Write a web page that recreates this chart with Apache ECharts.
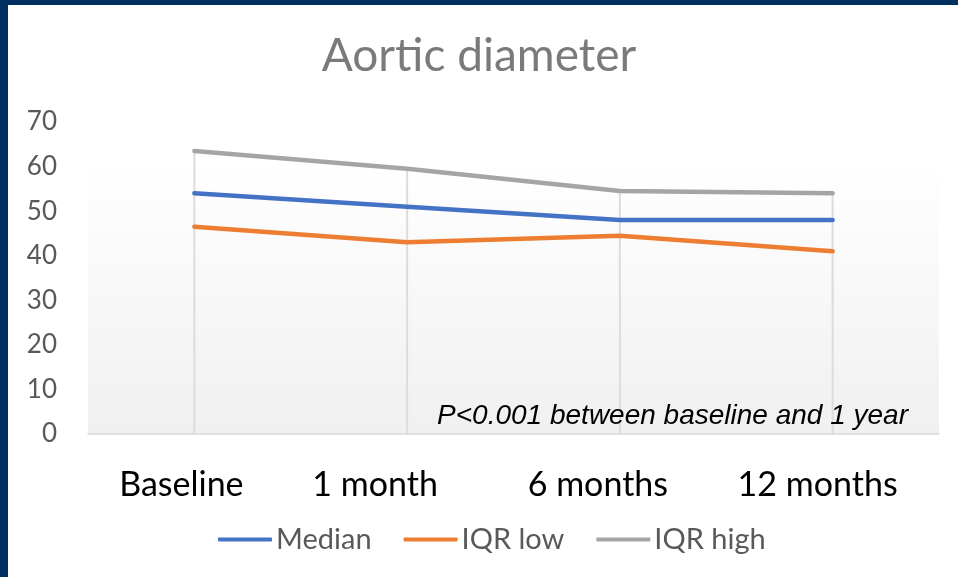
<!DOCTYPE html>
<html>
<head>
<meta charset="utf-8">
<script src="https://cdn.jsdelivr.net/npm/echarts@6/dist/echarts.min.js"></script>
<style>
  html, body { margin: 0; padding: 0; background: #fff; }
  #chart { width: 958px; height: 577px; }
</style>
</head>
<body>
<div id="chart"></div>
<script>
// data
var categories = ['Baseline', '1 month', '6 months', '12 months']
var median = [54, 51, 48, 48]
var iqrLow = [46.5, 43, 44.5, 41]
var iqrHigh = [63.5, 59.5, 54.5, 54]
var yTicks = [0, 10, 20, 30, 40, 50, 60, 70]

// excel nudges the category labels a bit left of their ticks
var labelShift = [13, 32, 22, 15]

// excel style drop lines: from the top series down to the axis
var dropTop = categories.map(function (c, i) {
  return Math.max(median[i], iqrLow[i], iqrHigh[i])
})

var navy = '#00305f'
var calibri = 'Lato, "Open Sans", sans-serif'

var chart = echarts.init(document.getElementById('chart'))

function lineSeries(name, data, color) {
  return {
    name: name,
    type: 'line',
    data: data,
    symbol: 'none',
    z: 3,
    lineStyle: { color: color, width: 4.5, cap: 'round', join: 'round' },
    itemStyle: { color: color }
  }
}

chart.setOption({
  animation: false,
  title: {
    text: 'Aortic diameter',
    left: 'center',
    top: 28,
    textStyle: {
      fontFamily: calibri,
      fontWeight: 400,
      fontSize: 46,
      color: '#7a7a7a'
    }
  },
  grid: {
    left: 88,
    right: 19,
    top: 122,
    bottom: 143,
    show: true,
    borderWidth: 0,
    backgroundColor: new echarts.graphic.LinearGradient(0, 0, 0, 1, [
      { offset: 0, color: '#ffffff' },
      { offset: 0.13, color: '#ffffff' },
      { offset: 1, color: '#f0f0f0' }
    ])
  },
  legend: {
    data: ['Median', 'IQR low', 'IQR high'],
    left: 213,
    top: 520,
    icon: 'roundRect',
    itemWidth: 54,
    itemHeight: 4,
    itemGap: 32,
    textStyle: {
      fontFamily: calibri,
      fontSize: 29,
      color: '#595959',
      padding: [0, 0, 0, -1]
    }
  },
  xAxis: {
    type: 'category',
    data: categories.map(function (c, i) {
      return { value: c, textStyle: { padding: [0, labelShift[i] * 2, 0, 0] } }
    }),
    boundaryGap: true,
    axisTick: { show: false },
    axisLine: { lineStyle: { color: '#d9d9d9', width: 1.5 } },
    axisLabel: {
      fontFamily: calibri,
      fontSize: 34,
      color: '#000',
      margin: 34
    },
    splitLine: { show: false }
  },
  yAxis: {
    type: 'value',
    min: yTicks[0],
    max: yTicks[yTicks.length - 1],
    interval: 10,
    axisLine: { show: false },
    axisTick: { show: false },
    splitLine: { show: false },
    axisLabel: {
      fontFamily: calibri,
      fontSize: 26,
      color: '#595959',
      margin: 31
    }
  },
  graphic: [
    { type: 'rect', left: 0, top: 0, shape: { width: 958, height: 5 }, style: { fill: navy }, z: 10 },
    { type: 'rect', left: 0, top: 0, shape: { width: 8, height: 577 }, style: { fill: navy }, z: 10 },
    {
      type: 'text',
      right: 50,
      top: 402,
      z: 10,
      style: {
        text: 'P<0.001 between baseline and 1 year',
        font: 'italic 28px "Liberation Sans", Arial, sans-serif',
        fill: '#000'
      }
    }
  ],
  series: [
    {
      name: 'drop',
      type: 'bar',
      data: dropTop,
      barWidth: 2,
      silent: true,
      z: 1,
      itemStyle: { color: '#dcdcdc' }
    },
    lineSeries('Median', median, '#4472c4'),
    lineSeries('IQR low', iqrLow, '#ed7d31'),
    lineSeries('IQR high', iqrHigh, '#a5a5a5')
  ]
})
</script>
</body>
</html>
